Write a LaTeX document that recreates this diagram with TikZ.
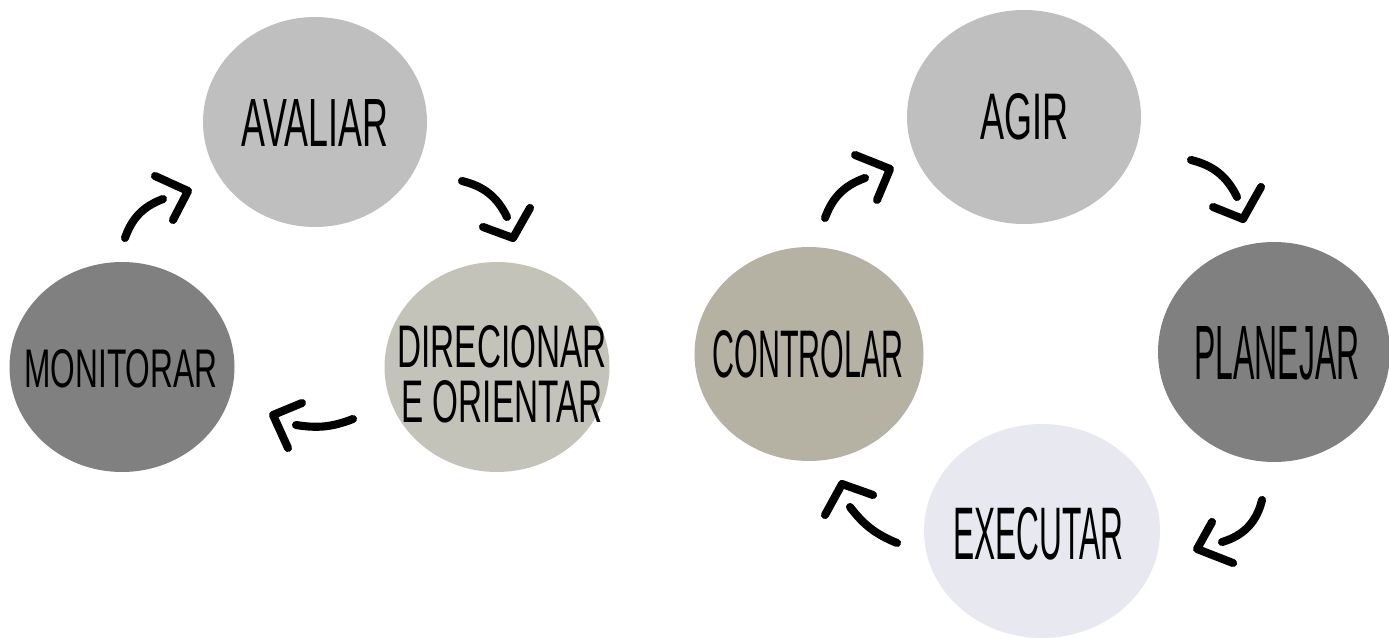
\documentclass[tikz,border=0pt]{standalone}
\usepackage{graphicx}
\usepackage{fontspec}
\setmainfont{Liberation Sans}
\usepackage{tikz}
\usetikzlibrary{shapes.geometric}
\definecolor{silvergray}{RGB}{191,191,191}
\definecolor{darkgray}{RGB}{128,128,128}
\definecolor{stonegray}{RGB}{196,195,185}
\definecolor{khakigray}{RGB}{181,178,164}
\definecolor{palelilac}{RGB}{232,232,240}
\newlength\pxu
\setlength\pxu{0.02cm}
% word squeezed to a given width and cap height (in px)
\newcommand{\handword}[3]{\resizebox{#1\pxu}{#2\pxu}{#3}}

\begin{document}
\begin{tikzpicture}[x=0.02cm, y=-0.02cm,
    blob/.style={ellipse, inner sep=0pt},
    word/.style={inner sep=0pt, align=center, font=\fontsize{10}{55\pxu}\selectfont},
    shaft/.style={line width=4.6pt, line cap=round},
    barb/.style={line width=4.6pt, line cap=round, line join=round}]
  \useasboundingbox (0,0) rectangle (1389,638);

  % left cycle
  \node[blob, fill=silvergray, minimum width=224\pxu, minimum height=210\pxu] (avaliar) at (315,122) {};
  \node[blob, fill=stonegray, minimum width=225\pxu, minimum height=210\pxu] (direcionar) at (497,367) {};
  \node[blob, fill=darkgray, minimum width=225\pxu, minimum height=210\pxu] (monitorar) at (122,367) {};
  \node[word] (avaliartext) at (315,123) {\handword{146}{47}{AVALIAR}};
  \node[word] (dirtext) at (502,374) {\handword{209}{42}{DIRECIONAR}\\ \handword{201}{42}{E ORIENTAR}};
  \node[word] (monitext) at (121,369) {\handword{193}{38}{MONITORAR}};

  % right cycle
  \node[blob, fill=silvergray, minimum width=234\pxu, minimum height=214\pxu] (agir) at (1024,117) {};
  \node[blob, fill=darkgray, minimum width=232\pxu, minimum height=220\pxu] (planejar) at (1274,352) {};
  \node[blob, fill=palelilac, minimum width=236\pxu, minimum height=214\pxu] (executar) at (1042,531) {};
  \node[blob, fill=khakigray, minimum width=229\pxu, minimum height=214\pxu] (controlar) at (809,354) {};
  \node[word] (agirtext) at (1024,117) {\handword{88}{46}{AGIR}};
  \node[word] (plantext) at (1277,353) {\handword{165}{53}{PLANEJAR}};
  \node[word] (exectext) at (1038,534) {\handword{170}{52}{EXECUTAR}};
  \node[word] (contrtext) at (808,354) {\handword{191}{47}{CONTROLAR}};

  % arrow ends
  \coordinate (m2a) at (125,238);  \coordinate (m2aend) at (163,199);
  \coordinate (a2d) at (462,181);  \coordinate (a2dend) at (507,217);
  \coordinate (d2m) at (353,419);  \coordinate (d2mend) at (296,425);
  \coordinate (c2g) at (825,218);  \coordinate (c2gend) at (865,178);
  \coordinate (g2p) at (1191,160); \coordinate (g2pend) at (1237,197);
  \coordinate (p2e) at (1262,500); \coordinate (p2eend) at (1222,542);
  \coordinate (e2c) at (897,543);  \coordinate (e2cend) at (850,507);

  \draw[shaft] (m2a) to[bend left=25] (m2aend);
  \draw[barb] (155,176) -- (188,191) -- (173,220);
  \draw[shaft] (a2d) to[bend left=25] (a2dend);
  \draw[barb] (483,227) -- (513,238) -- (530,208);
  \draw[shaft] (d2m) to[bend left=15] (d2mend);
  \draw[barb] (302,403) -- (273,415) -- (288,448);

  \draw[shaft] (c2g) to[bend left=25] (c2gend);
  \draw[barb] (855,155) -- (890,169) -- (877,200);
  \draw[shaft] (g2p) to[bend left=25] (g2pend);
  \draw[barb] (1213,207) -- (1243,219) -- (1261,187);
  \draw[shaft] (p2e) to[bend left=30] (p2eend);
  \draw[barb] (1212,522) -- (1197,549) -- (1233,563);
  \draw[shaft] (e2c) to[bend left=15] (e2cend);
  \draw[barb] (873,495) -- (842,484) -- (825,515);
\end{tikzpicture}
\end{document}
